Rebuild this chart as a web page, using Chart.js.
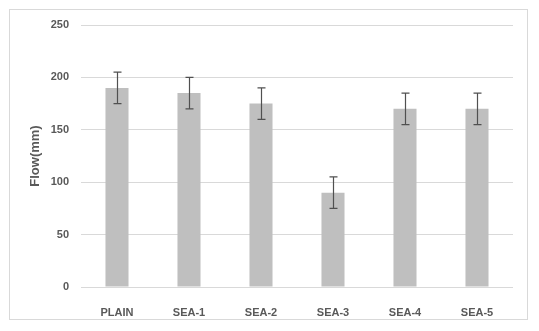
<!DOCTYPE html>
<html lang="en">
<head>
  <meta charset="UTF-8">
  <title>Flow</title>
  <script src="https://cdn.jsdelivr.net/npm/chart.js"></script>
  <style>
    body { margin: 0; background: #ffffff; }
    canvas { display: block; }
  </style>
</head>
<body>
  <canvas id="flowChart" width="539" height="331"></canvas>

  <script>
    const categories = ['PLAIN', 'SEA-1', 'SEA-2', 'SEA-3', 'SEA-4', 'SEA-5'];
    const flowValues = [190, 185, 175, 90, 170, 170];
    const flowErrors = [15, 15, 15, 15, 15, 15];
    const yTicks = [0, 50, 100, 150, 200, 250];

    const textColor = '#595959';
    const tickFont = { family: 'Liberation Sans', size: 11, weight: 'bold' };

    // frame around the whole chart
    const framePlugin = {
      id: 'frame',
      beforeDraw(chart) {
        const c = chart.ctx;
        c.save();
        c.fillStyle = '#ffffff';
        c.fillRect(0, 0, chart.width, chart.height);
        c.strokeStyle = '#d9d9d9';
        c.lineWidth = 1;
        c.strokeRect(9.5, 9.5, 518, 310);
        c.restore();
      }
    };

    // error bars, drawn through the y scale
    const errorBarPlugin = {
      id: 'errorBars',
      afterDatasetsDraw(chart) {
        const c = chart.ctx;
        const yScale = chart.scales.y;
        const meta = chart.getDatasetMeta(0);
        c.save();
        c.strokeStyle = '#505050';
        c.lineWidth = 1.2;
        meta.data.forEach((bar, i) => {
          const x = Math.round(bar.x) + 0.5;
          const top = yScale.getPixelForValue(flowValues[i] + flowErrors[i]);
          const bot = yScale.getPixelForValue(flowValues[i] - flowErrors[i]);
          c.beginPath();
          c.moveTo(x, top); c.lineTo(x, bot);
          c.moveTo(x - 4, top); c.lineTo(x + 4, top);
          c.moveTo(x - 4, bot); c.lineTo(x + 4, bot);
          c.stroke();
        });
        c.restore();
      }
    };

    const ctx = document.getElementById('flowChart').getContext('2d');
    new Chart(ctx, {
      type: 'bar',
      data: {
        labels: categories,
        datasets: [{
          label: 'Flow',
          data: flowValues,
          backgroundColor: '#bfbfbf',
          borderWidth: 0,
          categoryPercentage: 1,
          barPercentage: 0.32
        }]
      },
      options: {
        responsive: false,
        animation: false,
        layout: { padding: { left: 0, right: 26, top: 25, bottom: 0 } },
        plugins: {
          legend: { display: false },
          tooltip: { enabled: false }
        },
        scales: {
          x: {
            grid: { display: false },
            border: { display: false },
            ticks: { color: textColor, font: tickFont, padding: 11 },
            afterFit(scale) { scale.height = 44; }
          },
          y: {
            min: 0,
            max: 250,
            afterBuildTicks(scale) { scale.ticks = yTicks.map(v => ({ value: v })); },
            grid: { color: '#d9d9d9', drawTicks: false },
            border: { display: false },
            ticks: { color: textColor, font: tickFont, padding: 12 },
            title: {
              display: true,
              text: 'Flow(mm)',
              color: textColor,
              font: { family: 'Liberation Sans', size: 13, weight: 'bold' },
              padding: { top: 28, bottom: 0 }
            },
            afterFit(scale) { scale.width = 81; }
          }
        }
      },
      plugins: [framePlugin, errorBarPlugin]
    });
  </script>
</body>
</html>
